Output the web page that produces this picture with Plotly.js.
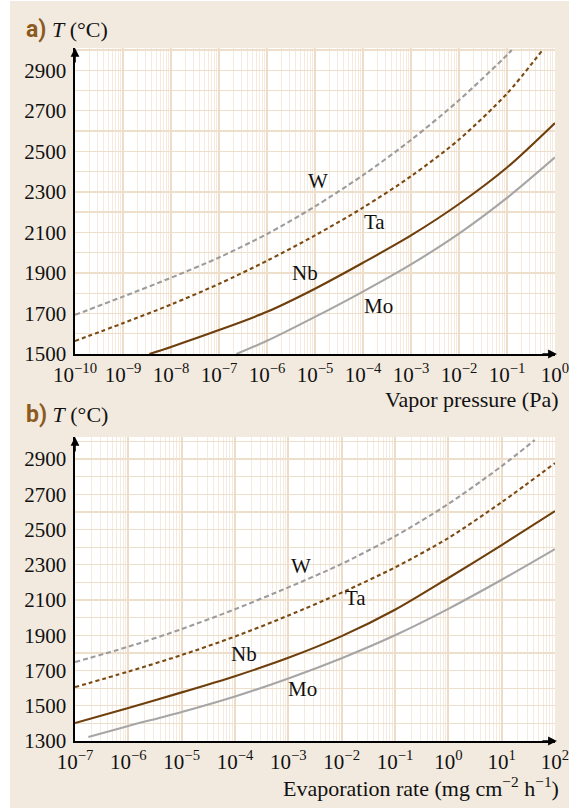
<!DOCTYPE html>
<html>
<head>
<meta charset="utf-8">
<script src="https://cdn.plot.ly/plotly-3.0.1.min.js"></script>
<style>
html,body{margin:0;padding:0;background:#ffffff;}
#chart{position:absolute;left:10px;top:1px;width:559px;height:807px;}
</style>
</head>
<body>
<div id="chart"></div>
<script>
// ---------- Panel a: T vs vapor pressure (Pa) ----------
const pW_a  = [1e-10,1e-9,1e-8,1e-7,1e-6,1e-5,1e-4,1e-3,1e-2,1e-1,0.126];
const tW_a  = [1693,1783,1876,1976,2092,2228,2382,2556,2752,2975,3000];
const pTa_a = [1e-10,1e-9,1e-8,1e-7,1e-6,1e-5,1e-4,1e-3,1e-2,1e-1,0.55];
const tTa_a = [1564,1652,1744,1846,1960,2085,2222,2377,2558,2785,3000];
const pNb_a = [3.55e-9,1e-8,1e-7,1e-6,1e-5,1e-4,1e-3,1e-2,1e-1,1];
const tNb_a = [1500,1535,1618,1708,1822,1950,2085,2240,2420,2640];
const pMo_a = [2.3e-7,1e-6,1e-5,1e-4,1e-3,1e-2,1e-1,1];
const tMo_a = [1500,1565,1683,1808,1942,2094,2270,2470];

// ---------- Panel b: T vs evaporation rate (mg cm^-2 h^-1) ----------
const eW_b  = [1e-7,1e-6,1e-5,1e-4,1e-3,1e-2,1e-1,1,10,41.7];
const tW_b  = [1748,1835,1935,2048,2172,2305,2462,2645,2860,3008];
const eTa_b = [1e-7,1e-6,1e-5,1e-4,1e-3,1e-2,1e-1,1,10,100];
const tTa_b = [1606,1694,1788,1893,2012,2142,2285,2452,2655,2877];
const eNb_b = [1e-7,1e-6,1e-5,1e-4,1e-3,1e-2,1e-1,1,10,100];
const tNb_b = [1402,1488,1576,1668,1772,1895,2045,2225,2412,2605];
const eMo_b = [1.78e-7,1e-6,1e-5,1e-4,1e-3,1e-2,1e-1,1,10,100];
const tMo_b = [1323,1385,1465,1553,1655,1770,1900,2050,2215,2389];

// ---------- Tick labels ----------
const xTickValsA = [1e-10,1e-9,1e-8,1e-7,1e-6,1e-5,1e-4,1e-3,1e-2,1e-1,1];
const xTickTextA = ['10<sup>−10</sup>','10<sup>−9</sup>','10<sup>−8</sup>','10<sup>−7</sup>','10<sup>−6</sup>','10<sup>−5</sup>','10<sup>−4</sup>','10<sup>−3</sup>','10<sup>−2</sup>','10<sup>−1</sup>','10<sup>0</sup>'];
const xTickValsB = [1e-7,1e-6,1e-5,1e-4,1e-3,1e-2,1e-1,1,10,100];
const xTickTextB = ['10<sup>−7</sup>','10<sup>−6</sup>','10<sup>−5</sup>','10<sup>−4</sup>','10<sup>−3</sup>','10<sup>−2</sup>','10<sup>−1</sup>','10<sup>0</sup>','10<sup>1</sup>','10<sup>2</sup>'];
const yTickValsA = [1500,1700,1900,2100,2300,2500,2700,2900];
const yTickValsB = [1300,1500,1700,1900,2100,2300,2500,2700,2900];

const labels = ['W','Ta','Nb','Mo'];

const serif = 'Liberation Serif';
const FS = 21;
const brown = '#6e3f0c';
const brownDash = '#7a4a12';
const grayDash = '#9c9c9c';
const gray = '#a6a6a6';
const hGrid = '#eddfcc';
const vMajor = '#ecdcc8';
const vMinor = '#f4eadd';

function tr(x, y, color, dash, xa, ya) {
  return {x: x, y: y, type: 'scatter', mode: 'lines', xaxis: xa, yaxis: ya,
    line: {color: color, width: 2.1, dash: dash, shape: 'spline', smoothing: 0.8},
    hoverinfo: 'skip', showlegend: false};
}

const data = [
  tr(pW_a, tW_a, grayDash, '5px,3px', 'x', 'y'),
  tr(pTa_a, tTa_a, brownDash, '4px,3px', 'x', 'y'),
  tr(pNb_a, tNb_a, brown, 'solid', 'x', 'y'),
  tr(pMo_a, tMo_a, gray, 'solid', 'x', 'y'),
  tr(eW_b, tW_b, grayDash, '5px,3px', 'x2', 'y2'),
  tr(eTa_b, tTa_b, brownDash, '4px,3px', 'x2', 'y2'),
  tr(eNb_b, tNb_b, brown, 'solid', 'x2', 'y2'),
  tr(eMo_b, tMo_b, gray, 'solid', 'x2', 'y2')
];

function xaxisDef(range, tv, tt, anchor) {
  return {type: 'log', range: range, domain: [0, 1], anchor: anchor,
    tickvals: tv, ticktext: tt, ticks: '', tickfont: {family: serif, size: FS, color: '#111'},
    ticklabeloverflow: 'allow', ticklabelstandoff: 1,
    showline: true, linecolor: '#000', linewidth: 1.6, zeroline: false,
    showgrid: true, gridcolor: vMajor, gridwidth: 2,
    minor: {dtick: 'D1', showgrid: true, gridcolor: vMinor, gridwidth: 1, ticks: ''},
    fixedrange: true};
}
function yaxisDef(domain, range, tv, anchor) {
  return {domain: domain, range: range, anchor: anchor, tickvals: tv, ticks: '',
    tickfont: {family: serif, size: FS, color: '#111'},
    ticklabeloverflow: 'allow',
    showline: true, linecolor: '#000', linewidth: 1.6, zeroline: false,
    showgrid: true, gridcolor: hGrid, gridwidth: 1.3,
    minor: {dtick: 100, tick0: 1300, showgrid: true, gridcolor: hGrid, gridwidth: 1.3, ticks: ''},
    ticklabelstandoff: 3, fixedrange: true};
}

const labelFont = {family: serif, size: FS, color: '#111'};
const titleFont = {family: serif, size: 22, color: '#111'};
function lab(text, x, y, xr, yr) {
  return {text: text, x: x, y: y, xref: xr, yref: yr, showarrow: false, font: labelFont,
    xanchor: 'center', yanchor: 'middle'};
}
function arrow(xr, yr, x, y, ax, ay) {
  return {text: '', xref: xr, yref: yr, x: x, y: y, ax: ax, ay: ay, showarrow: true,
    arrowhead: 2, arrowsize: 1.1, arrowwidth: 1.6, arrowcolor: '#000', standoff: 0, startstandoff: 0};
}

const panelTitle = (ch) => "<span style='font-family:Liberation Sans Narrow, Roboto, sans-serif;font-weight:bold;font-size:23px;color:#8c5a1e'>" + ch + ")</span> <i>T</i> (°C)";

const layout = {
  width: 559, height: 807,
  margin: {l: 65, r: 14, t: 0, b: 0},
  paper_bgcolor: '#f2eadf',
  plot_bgcolor: '#ffffff',
  showlegend: false,
  xaxis: xaxisDef([-10, 0], xTickValsA, xTickTextA, 'y'),
  yaxis: yaxisDef([0.5626, 0.9418], [1500, 3010], yTickValsA, 'x'),
  xaxis2: xaxisDef([-7, 2], xTickValsB, xTickTextB, 'y2'),
  yaxis2: yaxisDef([0.0830, 0.4597], [1300, 3025], yTickValsB, 'x2'),
  annotations: [
    lab(labels[0], -4.94, 2354, 'x', 'y'),
    lab(labels[1], -3.77, 2152, 'x', 'y'),
    lab(labels[2], -5.21, 1900, 'x', 'y'),
    lab(labels[3], -3.68, 1737, 'x', 'y'),
    lab(labels[0], -2.77, 2293, 'x2', 'y2'),
    lab(labels[1], -1.75, 2111, 'x2', 'y2'),
    lab(labels[2], -3.84, 1794, 'x2', 'y2'),
    lab(labels[3], -2.73, 1595, 'x2', 'y2'),
    {text: 'Vapor pressure (Pa)', xref: 'paper', yref: 'paper', x: 1.013, y: 0.5068,
      xanchor: 'right', yanchor: 'middle', showarrow: false, font: titleFont},
    {text: 'Evaporation rate (mg cm<sup>−2</sup> h<sup>−1</sup>)', xref: 'paper', yref: 'paper', x: 1.013, y: 0.0265,
      xanchor: 'right', yanchor: 'middle', showarrow: false, font: titleFont},
    {text: panelTitle('a'), xref: 'paper', yref: 'paper', x: -0.1064, y: 0.9653,
      xanchor: 'left', yanchor: 'middle', showarrow: false, font: titleFont},
    {text: panelTitle('b'), xref: 'paper', yref: 'paper', x: -0.1064, y: 0.487,
      xanchor: 'left', yanchor: 'middle', showarrow: false, font: titleFont},
    arrow('x domain', 'y domain', 0, 1, 0, 16),
    arrow('x domain', 'y domain', 1.004, 0, -16, 0),
    arrow('x2 domain', 'y2 domain', 0, 1, 0, 16),
    arrow('x2 domain', 'y2 domain', 1.004, 0, -16, 0)
  ]
};

Plotly.newPlot('chart', data, layout, {displayModeBar: false, staticPlot: true});
</script>
</body>
</html>
